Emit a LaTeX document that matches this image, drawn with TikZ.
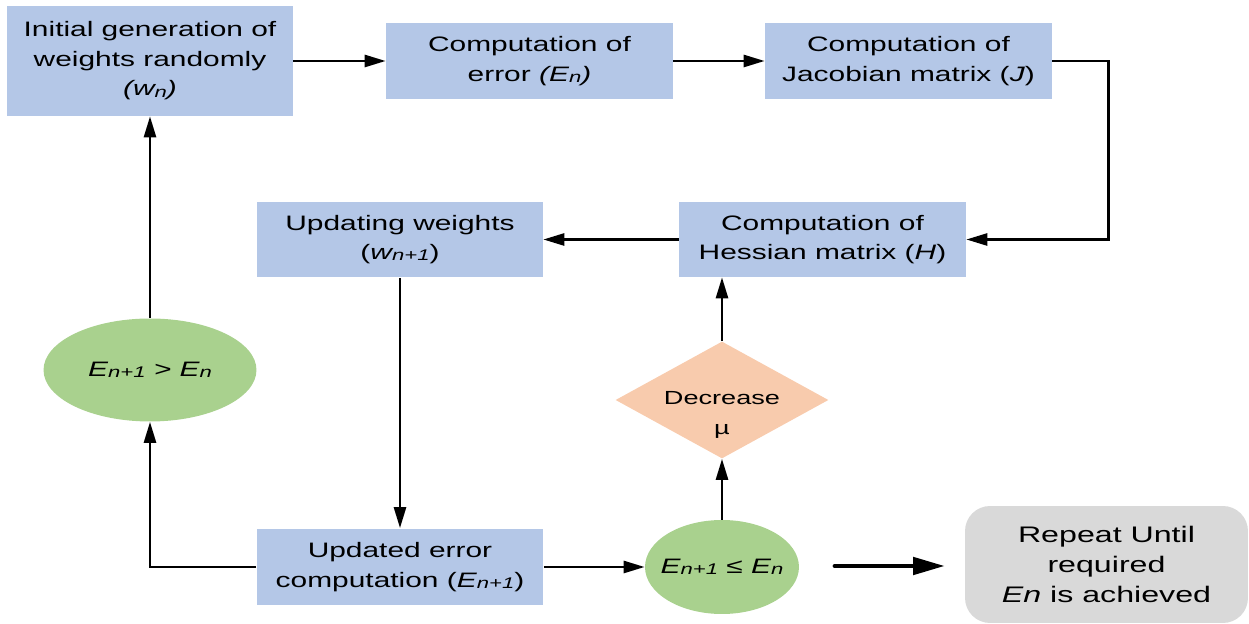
\documentclass[tikz,border=0pt]{standalone}
\usepackage{fontspec}
\setmainfont{Liberation Sans}[FakeStretch=1.43]
\usetikzlibrary{shapes.geometric,arrows.meta}

\definecolor{boxblue}{HTML}{B4C7E7}
\definecolor{ovalgreen}{HTML}{A9D18E}
\definecolor{diamondorange}{HTML}{F8CBAD}
\definecolor{notegray}{HTML}{D9D9D9}

% small index set on the baseline (e.g. n, n+1)
\newcommand{\lowidx}[1]{{\fontsize{8.8}{8.8}\selectfont\raisebox{-0.15ex}{#1}}}

\tikzset{
  x=0.02cm, y=-0.02cm,
  txt/.style={font=\fontsize{11.9}{16.8}\selectfont, align=center, inner sep=0pt},
  stepbox/.style={txt, rectangle, fill=boxblue},
  oval/.style={txt, ellipse, fill=ovalgreen},
  choice/.style={diamond, inner sep=0pt, fill=diamondorange},
  choicetext/.style={txt, font=\fontsize{10.8}{17.5}\selectfont},
  note/.style={txt, rectangle, rounded corners=0.5cm, fill=notegray,
               font=\fontsize{12.8}{17}\selectfont},
  arr/.style={line width=1.5pt, -{Triangle[length=0.42cm,width=0.24cm]}},
  bigarr/.style={line width=2.8pt, line cap=round, -{Triangle[length=0.64cm,width=0.34cm]}}
}

\begin{document}
\begin{tikzpicture}
\useasboundingbox (0,0) rectangle (1249,624);

% process boxes
\node[stepbox, minimum width=5.72cm, minimum height=2.2cm] (init) at (150,61)
  {Initial generation of\\weights randomly\\\textit{(w\lowidx{n})}};
\node[stepbox, minimum width=5.74cm, minimum height=1.52cm] (err) at (529.5,61)
  {Computation of\\error \textit{(E\lowidx{n})}};
\node[stepbox, minimum width=5.74cm, minimum height=1.52cm] (jac) at (908.5,61)
  {Computation of\\Jacobian matrix (\textit{J})};
\node[stepbox, minimum width=5.74cm, minimum height=1.5cm] (hes) at (822.5,239.5)
  {Computation of\\Hessian matrix (\textit{H})};
\node[stepbox, minimum width=5.72cm, minimum height=1.52cm] (upd) at (400,239.5)
  {Updating weights\\(\textit{w\lowidx{n+1}})};
\node[stepbox, minimum width=5.74cm, minimum height=1.54cm] (uerr) at (400,567)
  {Updated error\\computation (\textit{E\lowidx{n+1}})};

% decisions
\node[oval, minimum width=4.26cm, minimum height=2.06cm] (worse) at (150,370)
  {\textit{E\lowidx{n+1} > E\lowidx{n}}};
\node[oval, inner sep=-0.4cm, minimum width=3.08cm, minimum height=1.88cm] (better) at (722,567)
  {\textit{E\lowidx{n+1} ≤ E\lowidx{n}}};
\node[choice, minimum width=4.26cm, minimum height=2.34cm,
      label={[choicetext, yshift=-0.3cm]center:{Decrease\\µ}}] (mu) at (722,400) {};

% final note
\node[note, minimum width=5.66cm, minimum height=2.34cm] (done) at (1106.5,564.5)
  {Repeat Until\\required\\\textit{En} is achieved};

% connectors
\draw[arr] (init) -- (err);
\draw[arr] (err) -- (jac);
\draw[arr] (jac.east) -- ++(56,0) |- (hes.east);
\draw[arr] (hes) -- (upd);
\draw[arr] (upd) -- (uerr);
\draw[arr] (uerr) -- (better);
\draw[arr] (better) -- (mu);
\draw[arr] (mu.north) -- (mu.north |- hes.south);
\draw[arr] (uerr.west) -| (worse.south);
\draw[arr] (worse) -- (init);

\coordinate (goStart) at (835,566);
\coordinate (goEnd) at (945,566);
\draw[bigarr] (goStart) -- (goEnd);
\end{tikzpicture}
\end{document}
